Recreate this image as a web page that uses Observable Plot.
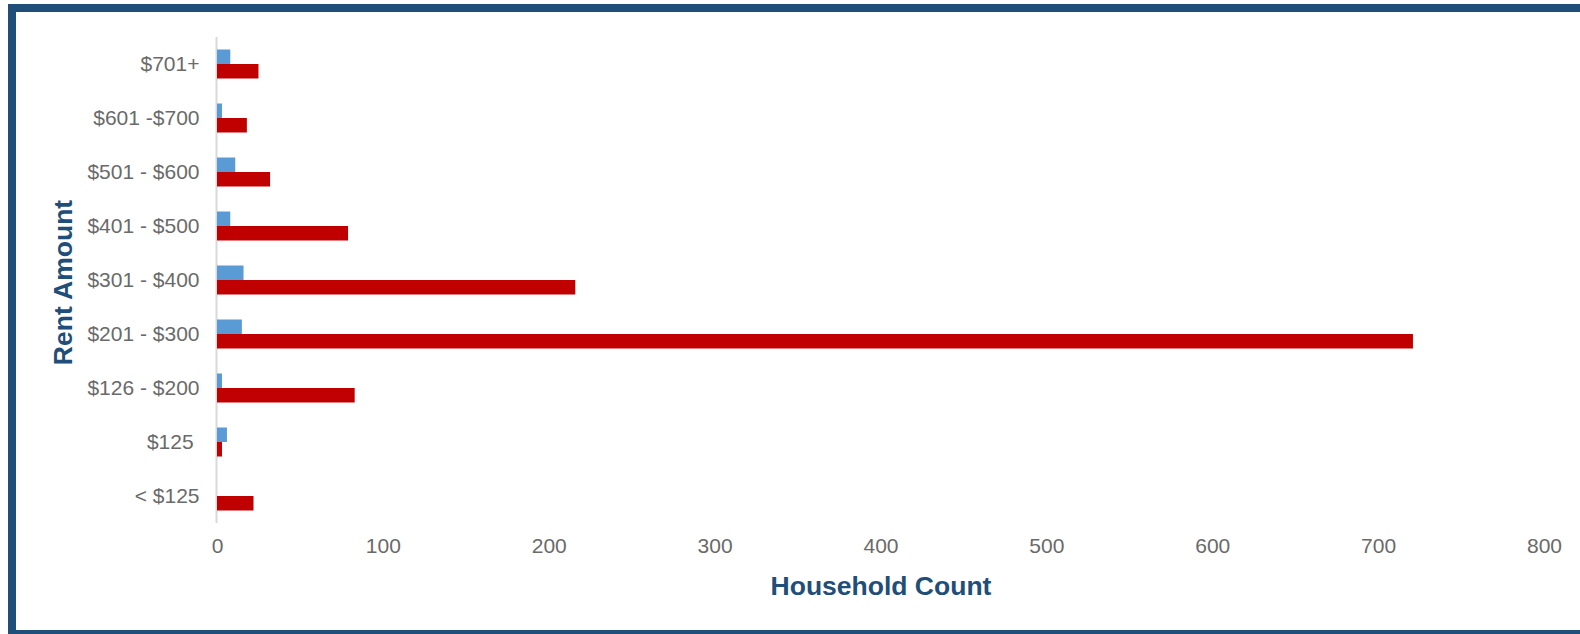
<!DOCTYPE html>
<html><head><meta charset="utf-8">
<script src="https://cdn.jsdelivr.net/npm/d3@7"></script>
<script src="https://cdn.jsdelivr.net/npm/@observablehq/plot@0.6"></script>
<style>
html,body{margin:0;padding:0;background:#fff;}
#wrap{position:relative;width:1580px;height:634px;overflow:hidden;background:#fff;}
#frame{position:absolute;left:8px;top:4px;width:1600px;height:618px;border-left:8px solid #1f4e79;border-top:8px solid #1f4e79;border-bottom:8px solid #1f4e79;}
#chart{position:absolute;left:0;top:0;}
</style></head>
<body>
<div id="wrap"><div id="frame"></div><div id="chart"></div></div>
<script>
const categories = ["$701+", "$601 -$700", "$501 - $600", "$401 - $500", "$301 - $400", "$201 - $300", "$126 - $200", "$125\u00a0", "< $125"];
const blueValues = [8, 3, 11, 8, 16, 15, 3, 6, 0];
const redValues = [25, 18, 32, 79, 216, 721, 83, 3, 22];
const xTicks = [0, 100, 200, 300, 400, 500, 600, 700, 800];
const xTitle = "Household Count";
const yTitle = "Rent Amount";

const blueData = categories.map((c, i) => ({category: c, value: blueValues[i]}));
const redData = categories.map((c, i) => ({category: c, value: redValues[i]}));

const chart = Plot.plot({
  width: 1580,
  height: 634,
  marginLeft: 217,
  marginRight: 36,
  marginTop: 37,
  marginBottom: 111,
  style: {fontFamily: "'Liberation Sans', Arial, sans-serif", background: "transparent", color: "#6a6a6a"},
  x: {domain: [0, 800]},
  y: {domain: categories, padding: 0},
  marks: [
    Plot.ruleX([0], {stroke: "#d9d9d9", strokeWidth: 2, dx: -1}),
    Plot.barX(blueData, {x: "value", y: "category", fill: "#5b9bd5", insetTop: 12.5, insetBottom: 27}),
    Plot.barX(redData, {x: "value", y: "category", fill: "#c00000", insetTop: 27, insetBottom: 12.5}),
    Plot.axisX({ticks: xTicks, tickSize: 0, tickPadding: 15, fontSize: 21, label: null}),
    Plot.axisY({tickSize: 0, tickPadding: 18, fontSize: 21, label: null}),
    Plot.text([xTitle], {frameAnchor: "bottom", lineAnchor: "middle", dy: 63, fontSize: 26.5, fontWeight: "bold", fill: "#1f4e79"}),
    Plot.text([yTitle], {frameAnchor: "left", textAnchor: "middle", rotate: -90, lineAnchor: "middle", dx: -154, dy: 2, fontSize: 26.5, fontWeight: "bold", fill: "#1f4e79"})
  ]
});
document.getElementById("chart").appendChild(chart);
</script>
</body></html>
